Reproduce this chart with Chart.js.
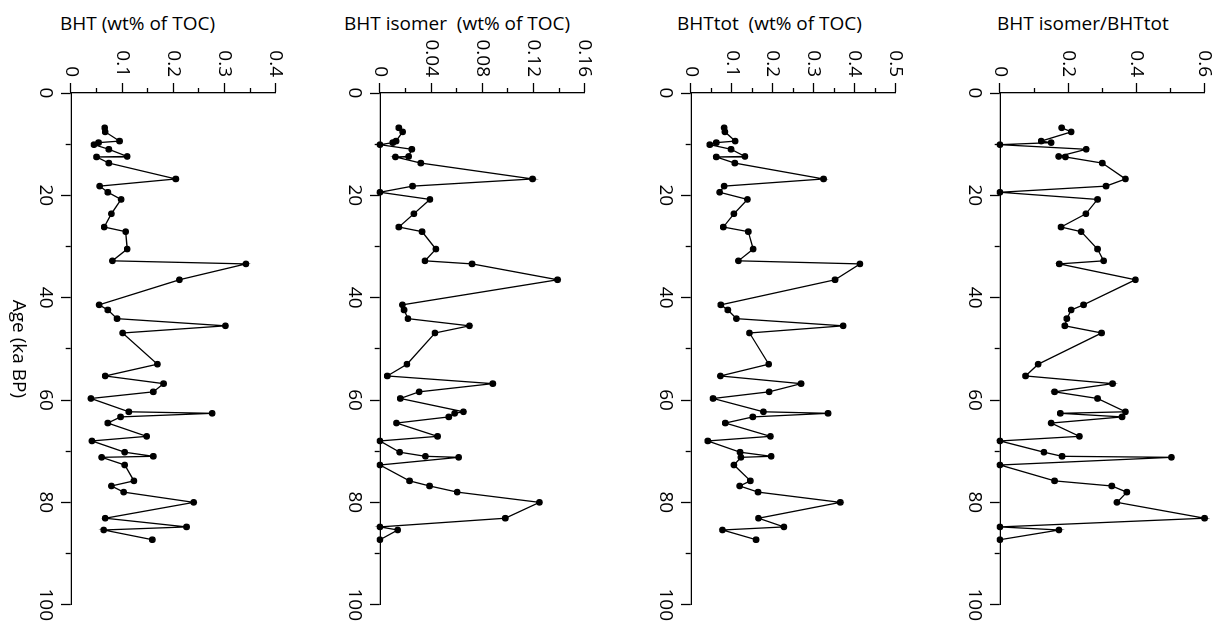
<!DOCTYPE html>
<html>
<head>
<meta charset="utf-8">
<script src="https://cdn.jsdelivr.net/npm/chart.js@4.4.1/dist/chart.umd.min.js"></script>
<style>
  html, body { margin: 0; padding: 0; background: #fff; }
  body { width: 1215px; height: 625px; position: relative; overflow: hidden; font-family: "Open Sans", sans-serif; }
  .panel { position: absolute; top: 0; width: 292px; height: 625px; }
  .panel canvas { position: absolute; left: 0; top: 0; transform-origin: 0 0; transform: translateX(292px) rotate(90deg); }
  .title { position: absolute; top: 12px; font-size: 19px; line-height: 22px; white-space: pre; color: #000; }
</style>
</head>
<body>
<div class="title" style="left:60px">BHT (wt% of TOC)</div>
<div class="title" style="left:344px">BHT isomer  (wt% of TOC)</div>
<div class="title" style="left:677px">BHTtot  (wt% of TOC)</div>
<div class="title" style="left:997px">BHT isomer/BHTtot</div>

<div class="panel" style="left:1px"><canvas id="c1" width="625" height="292"></canvas></div>
<div class="panel" style="left:310px"><canvas id="c2" width="625" height="292"></canvas></div>
<div class="panel" style="left:621px"><canvas id="c3" width="625" height="292"></canvas></div>
<div class="panel" style="left:930px"><canvas id="c4" width="625" height="292"></canvas></div>

<script>
// sample ages (ka BP), shared by all four profiles
const ages = [6.8, 7.6, 9.4, 9.7, 10.1, 11.0, 12.4, 12.5, 13.7, 16.8, 18.2, 19.4, 20.8, 23.6, 26.2, 27.1,
  30.5, 32.8, 33.4, 36.5, 41.4, 42.4, 44.1, 45.5, 46.9, 53.0, 55.3, 56.8, 58.4, 59.7, 62.3, 62.6,
  63.3, 64.5, 67.1, 68.0, 70.2, 71.0, 71.2, 72.7, 75.8, 76.8, 78.0, 80.0, 83.1, 84.8, 85.4, 87.3];

const bht = [0.066, 0.067, 0.095, 0.054, 0.045, 0.074, 0.110, 0.050, 0.074, 0.205, 0.056, 0.072, 0.098, 0.079, 0.065, 0.107,
  0.110, 0.081, 0.342, 0.212, 0.055, 0.072, 0.090, 0.302, 0.101, 0.169, 0.067, 0.181, 0.161, 0.039, 0.113, 0.276,
  0.097, 0.072, 0.148, 0.041, 0.105, 0.161, 0.060, 0.105, 0.123, 0.079, 0.103, 0.240, 0.067, 0.226, 0.064, 0.159];

const bhtIsomer = [0.0147, 0.0177, 0.0126, 0.0100, 0, 0.0249, 0.0224, 0.0121, 0.0319, 0.1193, 0.0255, 0, 0.0391, 0.0265, 0.0147, 0.0329,
  0.0437, 0.0352, 0.0720, 0.1389, 0.0175, 0.0188, 0.0219, 0.0700, 0.0430, 0.0211, 0.0057, 0.0882, 0.0306, 0.0159, 0.0653, 0.0584,
  0.0538, 0.0129, 0.0450, 0, 0.0154, 0.0355, 0.0615, 0, 0.0231, 0.0388, 0.0604, 0.1247, 0.0980, 0, 0.0139, 0];

const bhtTot = [0.081, 0.083, 0.108, 0.062, 0.046, 0.098, 0.132, 0.062, 0.107, 0.324, 0.081, 0.070, 0.138, 0.105, 0.079, 0.140,
  0.152, 0.116, 0.413, 0.352, 0.073, 0.090, 0.111, 0.372, 0.143, 0.190, 0.072, 0.269, 0.191, 0.054, 0.177, 0.335,
  0.151, 0.084, 0.194, 0.041, 0.120, 0.196, 0.122, 0.105, 0.145, 0.119, 0.164, 0.365, 0.165, 0.227, 0.077, 0.159];

const isomerRatio = [0.181, 0.209, 0.121, 0.150, 0, 0.253, 0.172, 0.192, 0.300, 0.368, 0.311, 0, 0.286, 0.252, 0.179, 0.238,
  0.286, 0.304, 0.174, 0.397, 0.245, 0.209, 0.196, 0.190, 0.298, 0.112, 0.075, 0.330, 0.160, 0.286, 0.368, 0.177,
  0.358, 0.150, 0.233, 0, 0.129, 0.182, 0.503, 0, 0.160, 0.328, 0.372, 0.343, 0.600, 0, 0.173, 0];

// value axis: max, minor tick step (labels on every second tick)
const panels = [
  { id: "c1", values: bht, max: 0.4, step: 0.05, ageTitle: true },
  { id: "c2", values: bhtIsomer, max: 0.16, step: 0.02, ageTitle: false },
  { id: "c3", values: bhtTot, max: 0.5, step: 0.05, ageTitle: false },
  { id: "c4", values: isomerRatio, max: 0.6, step: 0.1, ageTitle: false },
];

Chart.defaults.font.family = "'Open Sans', sans-serif";
Chart.defaults.font.size = 19;
Chart.defaults.color = "#000";

// every other tick is a short unlabeled one
const isMinor = (ctx) => ctx.index % 2 === 1;

// each canvas is drawn as an ordinary age-vs-value plot and turned 90deg clockwise,
// so the value axis sits on top and age runs downwards
panels.forEach((p) => {
  new Chart(document.getElementById(p.id), {
    type: "scatter",
    data: {
      datasets: [{
        data: ages.map((a, i) => ({ x: a, y: p.values[i] })),
        showLine: true,
        borderColor: "#000",
        borderWidth: 1.3,
        backgroundColor: "#000",
        pointRadius: 2.7,
        pointHoverRadius: 2.7,
        clip: false,
      }],
    },
    options: {
      responsive: false,
      animation: false,
      events: [],
      layout: { padding: { top: 15, right: 15, left: 0, bottom: 0 } },
      plugins: { legend: { display: false }, tooltip: { enabled: false } },
      scales: {
        x: {
          type: "linear",
          min: 0,
          max: 100,
          afterFit: (s) => { s.height = 70; },
          border: { display: true, color: "#000", width: 1.3 },
          grid: {
            drawOnChartArea: false,
            drawTicks: true,
            tickLength: 10,
            tickColor: "#000",
            tickWidth: 1.3,
            tickBorderDash: (ctx) => (isMinor(ctx) ? [5, 20] : []),
          },
          ticks: {
            stepSize: 10,
            maxRotation: 0,
            autoSkip: false,
            padding: 4,
            callback: (v) => (Math.round(v) % 20 === 0 ? String(Math.round(v)) : ""),
          },
          title: {
            display: p.ageTitle,
            text: "Age (ka BP)",
            padding: { top: 0, bottom: 6 },
          },
        },
        y: {
          type: "linear",
          min: 0,
          max: p.max,
          afterFit: (s) => { s.width = 93; },
          border: { display: true, color: "#000", width: 1.3 },
          grid: {
            drawOnChartArea: false,
            drawTicks: true,
            tickLength: 10,
            tickColor: "#000",
            tickWidth: 1.3,
            tickBorderDash: (ctx) => (isMinor(ctx) ? [5, 5] : []),
            tickBorderDashOffset: (ctx) => (isMinor(ctx) ? 5 : 0),
          },
          ticks: {
            stepSize: p.step,
            autoSkip: false,
            padding: 6,
            callback: (v) => {
              const k = Math.round(v / p.step);
              return k % 2 === 0 ? String(+(k * p.step).toFixed(3)) : "";
            },
          },
        },
      },
    },
  });
});
</script>
</body>
</html>
